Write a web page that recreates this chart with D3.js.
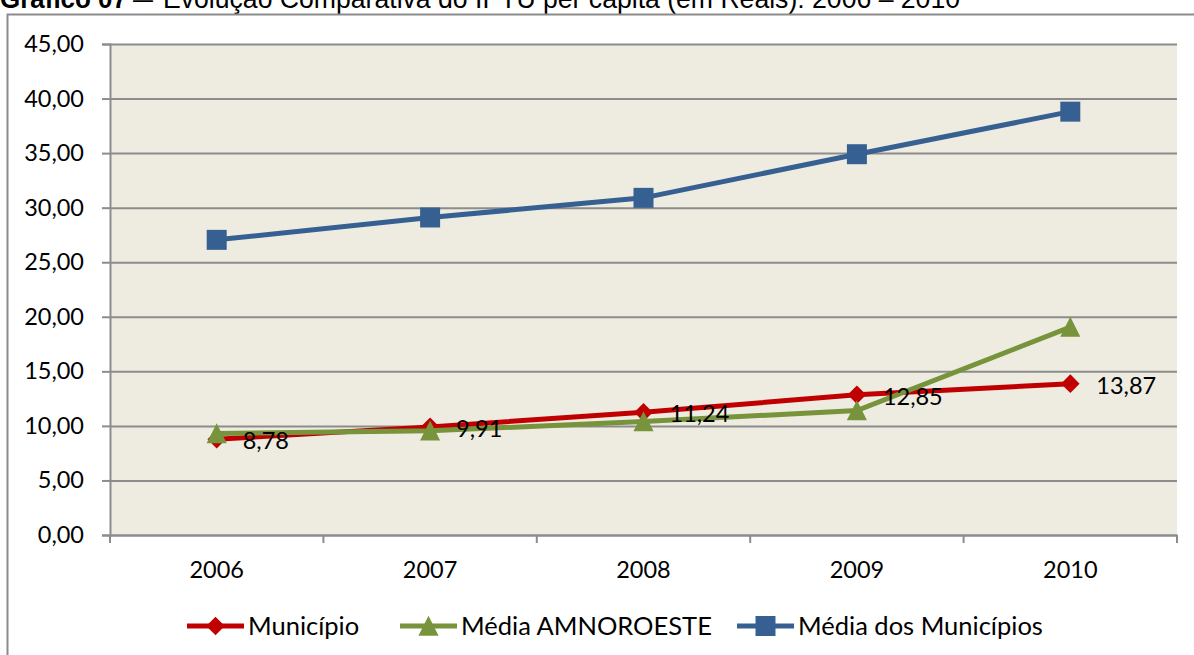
<!DOCTYPE html>
<html>
<head>
<meta charset="utf-8">
<script src="https://cdn.jsdelivr.net/npm/d3@7"></script>
<style>
  html, body { margin: 0; padding: 0; background: #fff; overflow: hidden; }
  svg { display: block; }
</style>
</head>
<body>
<svg id="main-chart-svg" width="1194" height="655"></svg>
<script>
// chart data
const years = ["2006", "2007", "2008", "2009", "2010"];
const municipio = [8.78, 9.91, 11.24, 12.85, 13.87];
const mediaAmnoroeste = [9.3, 9.55, 10.4, 11.4, 19.05];
const mediaMunicipios = [27.05, 29.1, 30.9, 34.9, 38.8];
const yTicks = [0, 5, 10, 15, 20, 25, 30, 35, 40, 45];
const seriesNames = ["Município", "Média AMNOROESTE", "Média dos Municípios"];

const svg = d3.select("#main-chart-svg");
const font = "Lato, 'Open Sans', sans-serif";
const fmt = d => d.toFixed(2).replace(".", ",");

// title (partly cut at the top as in the source page)
const titleFont = "'Liberation Sans', Arial, sans-serif";
svg.append("text")
  .attr("x", 0).attr("y", 7.5)
  .attr("textLength", 127).attr("lengthAdjust", "spacingAndGlyphs")
  .style("font-family", titleFont).style("font-size", "27px").style("font-weight", "bold")
  .text("Gráfico 07");
svg.append("text")
  .attr("x", 133).attr("y", 7.5)
  .attr("textLength", 20).attr("lengthAdjust", "spacingAndGlyphs")
  .style("font-family", titleFont).style("font-size", "27px")
  .text("–");
svg.append("text")
  .attr("x", 163).attr("y", 7.5)
  .attr("textLength", 797).attr("lengthAdjust", "spacingAndGlyphs")
  .style("font-family", titleFont).style("font-size", "27px")
  .text("Evolução Comparativa do IPTU per capita (em Reais): 2006 – 2010");

// chart frame
svg.append("rect")
  .attr("x", 7.5).attr("y", 14.5)
  .attr("width", 1220).attr("height", 680)
  .attr("fill", "#fff").attr("stroke", "#8c8c8c").attr("stroke-width", 2);

const plotLeft = 110, plotRight = 1177, plotTop = 44, plotBottom = 535;

let xScale = d3.scaleBand().domain(years).range([plotLeft, plotRight]);
let yScale = d3.scaleLinear().domain([0, 45]).range([plotBottom, plotTop]);
const cx = y => xScale(y) + xScale.bandwidth() / 2;

// plot background
svg.append("rect")
  .attr("x", plotLeft).attr("y", plotTop)
  .attr("width", plotRight - plotLeft).attr("height", plotBottom - plotTop)
  .attr("fill", "#eeece1");

// gridlines
let grid = svg.append("g").attr("transform", `translate(${plotLeft},0)`)
  .call(d3.axisLeft(yScale).tickValues(yTicks).tickSize(-(plotRight - plotLeft)).tickFormat(""));
grid.select(".domain").remove();
grid.selectAll("line").attr("stroke", "#8c8c8c").attr("stroke-width", 2);

// y axis
let yAxis = svg.append("g").attr("transform", `translate(${plotLeft},0)`)
  .call(d3.axisLeft(yScale).tickValues(yTicks).tickSize(8).tickPadding(18).tickFormat(fmt));
yAxis.select(".domain").attr("stroke", "#8c8c8c").attr("stroke-width", 2);
yAxis.selectAll("line").attr("stroke", "#8c8c8c").attr("stroke-width", 2);
yAxis.selectAll("text")
  .style("font-family", font).style("font-size", "23.5px").attr("fill", "#000");

// x axis
let xAxis = svg.append("g").attr("transform", `translate(0,${plotBottom})`)
  .call(d3.axisBottom(xScale).tickSize(0).tickPadding(26));
xAxis.select(".domain").attr("stroke", "#8c8c8c").attr("stroke-width", 2);
xAxis.selectAll("text")
  .style("font-family", font).style("font-size", "23.5px").attr("fill", "#000");
const bounds = years.map(y => xScale(y)).concat([plotRight]);
xAxis.selectAll(".bound").data(bounds).enter().append("line")
  .attr("x1", d => d).attr("x2", d => d)
  .attr("y1", 0).attr("y2", 8)
  .attr("stroke", "#8c8c8c").attr("stroke-width", 2);

const line = d3.line().x((d, i) => cx(years[i])).y(d => yScale(d));

const symbols = {
  diamond: d3.symbol().type(d3.symbolDiamond2 || d3.symbolDiamond).size(220),
  triangle: d3.symbol().type(d3.symbolTriangle).size(175),
  square: d3.symbol().type(d3.symbolSquare).size(400)
};

const series = [
  { name: seriesNames[0], values: municipio, color: "#c00000", mark: "diamond" },
  { name: seriesNames[1], values: mediaAmnoroeste, color: "#77933c", mark: "triangle" },
  { name: seriesNames[2], values: mediaMunicipios, color: "#376092", mark: "square" }
];

function drawMark(g, s, x, y) {
  let p = g.append("path")
    .attr("d", symbols[s.mark]())
    .attr("fill", s.color)
    .attr("transform", `translate(${x},${y})`);
  if (s.mark === "triangle") p.attr("transform", `translate(${x},${y + 3}) scale(1,1.15)`);
}

series.forEach(s => {
  let g = svg.append("g");
  g.append("path").datum(s.values)
    .attr("d", line).attr("fill", "none")
    .attr("stroke", s.color).attr("stroke-width", 5);
  s.values.forEach((v, i) => drawMark(g, s, cx(years[i]), yScale(v)));
});

// data labels for Município
svg.append("g").selectAll("text").data(municipio).enter().append("text")
  .attr("x", (d, i) => cx(years[i]) + 26)
  .attr("y", d => yScale(d) + 10)
  .style("font-family", font).style("font-size", "23.5px").attr("fill", "#000")
  .text(fmt);

// legend
const legendX = [187, 400, 737];
const legendY = 626;
series.forEach((s, i) => {
  let g = svg.append("g");
  g.append("line")
    .attr("x1", legendX[i]).attr("x2", legendX[i] + 57)
    .attr("y1", legendY).attr("y2", legendY)
    .attr("stroke", s.color).attr("stroke-width", 5);
  drawMark(g, s, legendX[i] + 28.5, legendY);
  g.append("text")
    .attr("x", legendX[i] + 61).attr("y", legendY + 9)
    .style("font-family", font).style("font-size", "25.5px").attr("fill", "#000")
    .text(s.name);
});
</script>
</body>
</html>
